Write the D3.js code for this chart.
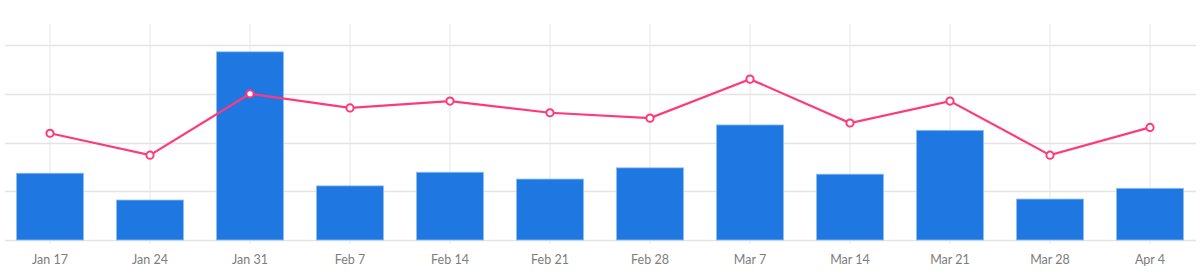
<!DOCTYPE html>
<html>
<head>
<meta charset="utf-8">
<script src="https://cdn.jsdelivr.net/npm/d3@7"></script>
<style>
  html, body { margin: 0; padding: 0; background: #fff; }
  svg { display: block; }
  .tick text { font-family: "Lato", "Open Sans", sans-serif; }
</style>
</head>
<body>
<svg id="chart" width="1200" height="278"></svg>
<script>
const categories = ["Jan 17","Jan 24","Jan 31","Feb 7","Feb 14","Feb 21","Feb 28","Mar 7","Mar 14","Mar 21","Mar 28","Apr 4"];
const barValues  = [1.37, 0.82, 3.86, 1.11, 1.39, 1.25, 1.48, 2.36, 1.35, 2.25, 0.84, 1.06];
const lineValues = [2.19, 1.74, 3.00, 2.71, 2.85, 2.61, 2.50, 3.30, 2.40, 2.85, 1.74, 2.31];
const yTicks = [0, 1, 2, 3, 4];

const svg = d3.select("#chart");
const W = 1200;

const x = d3.scaleBand().domain(categories).range([0, W]).paddingInner(0.32).paddingOuter(0.16);
const y = d3.scaleLinear().domain([0, 4]).range([240, 45]);

// horizontal gridlines
svg.append("g")
  .selectAll("line")
  .data(yTicks)
  .join("line")
  .attr("x1", 5).attr("x2", 1196)
  .attr("y1", d => Math.round(y(d)) + 0.5)
  .attr("y2", d => Math.round(y(d)) + 0.5)
  .attr("stroke", "#e4e4e4")
  .attr("stroke-width", 1.5);

// vertical gridlines
svg.append("g")
  .selectAll("line")
  .data(categories)
  .join("line")
  .attr("x1", d => x(d) + x.bandwidth() / 2)
  .attr("x2", d => x(d) + x.bandwidth() / 2)
  .attr("y1", 24).attr("y2", y(0) + 4)
  .attr("stroke", "#e6e6e6")
  .attr("stroke-width", 1);

// bars
svg.append("g")
  .selectAll("rect")
  .data(barValues)
  .join("rect")
  .attr("x", (d, i) => x(categories[i]) + 0.5)
  .attr("width", x.bandwidth() - 1)
  .attr("y", d => y(d))
  .attr("height", d => y(0) - y(d))
  .attr("fill", "#1f77e2")
  .attr("stroke", "#8dbdf2")
  .attr("stroke-width", 0.8);

// x axis
const xAxis = svg.append("g")
  .attr("transform", `translate(0,${y(0)})`)
  .call(d3.axisBottom(x).tickSize(0).tickPadding(15));
xAxis.select(".domain").remove();
xAxis.selectAll("text")
  .attr("fill", "#7d7d7d")
  .attr("font-size", 12.5);

// line
const line = d3.line()
  .x((d, i) => x(categories[i]) + x.bandwidth() / 2)
  .y(d => y(d));

svg.append("path")
  .datum(lineValues)
  .attr("d", line)
  .attr("fill", "none")
  .attr("stroke", "#ff3a7c")
  .attr("stroke-width", 2.2);

svg.append("g")
  .selectAll("circle")
  .data(lineValues)
  .join("circle")
  .attr("cx", (d, i) => x(categories[i]) + x.bandwidth() / 2)
  .attr("cy", d => y(d))
  .attr("r", 3.6)
  .attr("fill", "#fff")
  .attr("stroke", "#ff3a7c")
  .attr("stroke-width", 2);
</script>
</body>
</html>
